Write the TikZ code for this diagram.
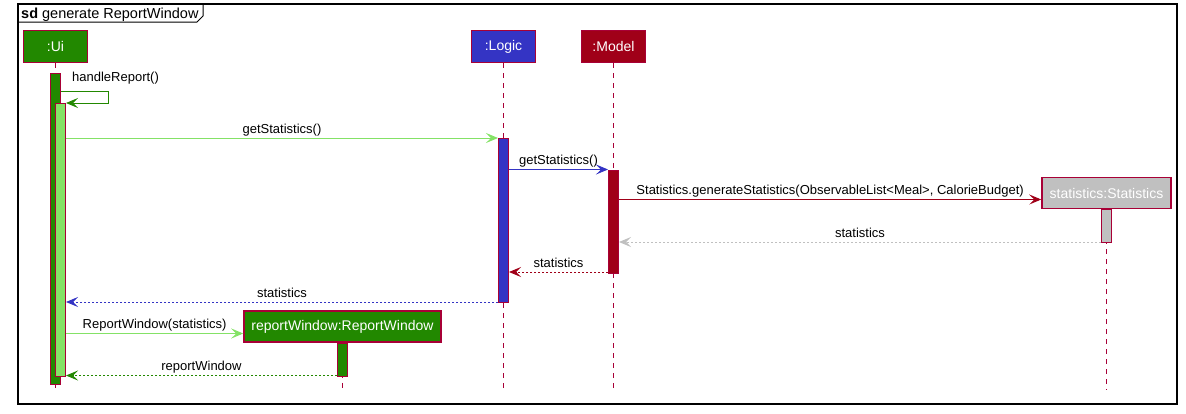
\documentclass[tikz,border=0pt]{standalone}
\usepackage{fontspec}
\setmainfont{Liberation Sans}
\usetikzlibrary{arrows.meta}

\definecolor{edge}{RGB}{168,0,54}
\definecolor{uigreen}{RGB}{34,136,0}
\definecolor{uilight}{RGB}{132,226,102}
\definecolor{logicblue}{RGB}{52,52,196}
\definecolor{modelred}{RGB}{160,0,24}
\definecolor{statgray}{RGB}{192,192,192}

\tikzset{
  part/.style={draw=edge, line width=1.5pt, minimum width=64pt, minimum height=32pt, inner sep=0pt, text=white, font=\fontsize{14}{16}\selectfont},
  act/.style={draw=edge, line width=1pt, minimum width=10pt, inner sep=0pt, anchor=north},
  life/.style={edge, line width=1pt, dash pattern=on 5pt off 5pt},
  msg/.style={line width=0.9pt, -{Stealth[length=12pt, width=10pt, inset=5pt]}},
  reply/.style={msg, dash pattern=on 2pt off 2pt},
  lbl/.style={black, font=\fontsize{13}{15}\selectfont, anchor=base, yshift=5pt, inner sep=0pt}
}

\begin{document}
\begin{tikzpicture}[x=1pt, y=-1pt]
    \useasboundingbox (0,0) rectangle (1186,413);

    % frame
    \draw[line width=1.5pt] (18,4) rectangle (1177,404);
    \draw[line width=1pt] (18,22) -- (197,22) -- (203,16) -- (203,4);
    \node[anchor=base west, inner sep=0pt, font=\fontsize{14.5}{16}\selectfont] (title) at (21,18) {\textbf{sd} generate ReportWindow};

    % participants
    \node[part, fill=uigreen] (ui) at (55.5,46.5) {:Ui};
    \node[part, fill=logicblue] (logic) at (503.5,46.5) {:Logic};
    \node[part, fill=modelred] (model) at (613.5,46.5) {:Model};
    \node[part, fill=statgray, minimum width=129pt, minimum height=31pt] (stat) at (1106.5,193) {statistics:Statistics};
    \node[part, fill=uigreen, minimum width=197pt, minimum height=31pt] (rw) at (342.5,326.5) {reportWindow:ReportWindow};

    % lifelines
    \coordinate (bot) at (0,390);
    \draw[life] (ui.south) -- (ui.south |- bot);
    \draw[life] (logic.south) -- (logic.south |- bot);
    \draw[life] (model.south) -- (model.south |- bot);
    \draw[life] (stat.south) -- (stat.south |- bot);
    \draw[life] (rw.south) -- (rw.south |- bot);

    % activations
    \node[act, fill=uigreen, minimum height=311pt] (uiA) at (55.5,73) {};
    \node[act, fill=uilight, minimum height=273pt] (uiB) at (60.5,103) {};
    \node[act, fill=logicblue, minimum height=164pt] (logicA) at (503.5,138) {};
    \node[act, fill=modelred, minimum height=103pt] (modelA) at (613.5,169.5) {};
    \node[act, fill=statgray, minimum height=33pt] (statA) at (1106.5,208.5) {};
    \node[act, fill=uigreen, minimum height=33pt] (rwA) at (342.5,342.5) {};

    % message levels
    \coordinate (h1) at (0,91);
    \coordinate (h2) at (0,103);
    \coordinate (m1) at (0,138);
    \coordinate (m2) at (0,169.5);
    \coordinate (m3) at (0,199.5);
    \coordinate (m4) at (0,242);
    \coordinate (m5) at (0,272);
    \coordinate (m6) at (0,302);
    \coordinate (m7) at (0,333.5);
    \coordinate (m8) at (0,375.5);

    % messages
    \draw[msg, uigreen] (uiA.east |- h1) -- ++(47,0) -- ++(0,12) -- (uiB.east |- h2);
    \node[lbl, anchor=base west] (hr) at (72,86) {handleReport()};
    \draw[msg, uilight] (uiB.east |- m1) -- node[lbl] {getStatistics()} (logicA.west |- m1);
    \draw[msg, logicblue] (logicA.east |- m2) -- node[lbl] {getStatistics()} (modelA.west |- m2);
    \draw[msg, modelred] (modelA.east |- m3) -- node[lbl] {Statistics.generateStatistics(ObservableList<Meal>, CalorieBudget)} (stat.west |- m3);
    \draw[reply, statgray] (statA.west |- m4) -- node[lbl] {statistics} (modelA.east |- m4);
    \draw[reply, modelred] (modelA.west |- m5) -- node[lbl] {statistics} (logicA.east |- m5);
    \draw[reply, logicblue] (logicA.west |- m6) -- node[lbl] {statistics} (uiB.east |- m6);
    \draw[msg, uilight] (uiB.east |- m7) -- node[lbl] {ReportWindow(statistics)} (rw.west |- m7);
    \draw[reply, uigreen] (rwA.west |- m8) -- node[lbl] {reportWindow} (uiB.east |- m8);
\end{tikzpicture}
\end{document}
